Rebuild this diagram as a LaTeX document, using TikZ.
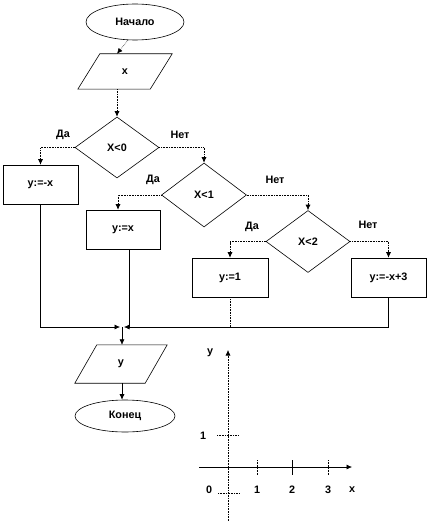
\documentclass[tikz,border=0pt]{standalone}
\usepackage{fontspec}
\setmainfont{Liberation Sans}
\usetikzlibrary{shapes.geometric,arrows.meta,calc}
\begin{document}
\begin{tikzpicture}[x=1pt,y=-1pt,
  every node/.style={font=\bfseries\fontsize{10.8}{12}\selectfont, inner sep=0pt},
  line/.style={line width=0.6pt, black},
  dotline/.style={line width=0.6pt, black, densely dotted},
  arr/.style={line, -{Latex[length=5.5pt,width=5pt]}},
  dotarr/.style={dotline, -{Latex[length=5.5pt,width=5pt]}},
  term/.style={draw, line width=0.6pt, ellipse},
  proc/.style={draw, line width=0.6pt, rectangle},
  cond/.style={draw, line width=0.6pt, diamond},
  io/.style={rectangle},
  lbl/.style={}]
\useasboundingbox (0,0) rectangle (427,521);

% nodes
\node[term, minimum width=98pt, minimum height=36pt] (start) at (135,22) {Начало};
\node[io, minimum width=72pt, minimum height=35pt] (in) at (125,71.5) {x};
\draw[line] ($(in.south west)+(-11pt,0pt)$) -- ($(in.south east)+(-11pt,0pt)$) -- ($(in.north east)+(11pt,0pt)$) -- ($(in.north west)+(11pt,0pt)$) -- cycle;

\node[cond, minimum width=84pt, minimum height=61pt] (d0) at (117,147.5) {X<0};
\node[cond, minimum width=85pt, minimum height=64pt] (d1) at (204,195) {X<1};
\node[cond, minimum width=84pt, minimum height=62pt] (d2) at (308,241.5) {X<2};

\node[proc, minimum width=75pt, minimum height=39pt] (b1) at (40.5,184.5) {y:=-x};
\node[proc, minimum width=74pt, minimum height=39pt] (b2) at (123,229.5) {y:=x};
\node[proc, minimum width=76pt, minimum height=39pt] (b3) at (230,277.5) {y:=1};
\node[proc, minimum width=75pt, minimum height=39pt] (b4) at (388.5,277.5) {y:=-x+3};

\node[io, minimum width=70pt, minimum height=38pt] (out) at (121,364) {y};
\draw[line] ($(out.south west)+(-11pt,0pt)$) -- ($(out.south east)+(-11pt,0pt)$) -- ($(out.north east)+(11pt,0pt)$) -- ($(out.north west)+(11pt,0pt)$) -- cycle;

\node[term, minimum width=100pt, minimum height=32pt] (end) at (125,416) {Конец};

% branch labels
\node[lbl] (da0) at (63,135) {Да};
\node[lbl] (net0) at (180,135) {Нет};
\node[lbl] (da1) at (153,180) {Да};
\node[lbl] (net1) at (275,180) {Нет};
\node[lbl] (da2) at (252,227) {Да};
\node[lbl] (net2) at (368,225) {Нет};

% connectors
\draw[dotarr] ([xshift=-7pt]start.south) -- ([xshift=-8pt]in.north);
\draw[dotarr] ([xshift=-8pt]in.south) -- (d0.north);
\draw[dotarr] (d0.west) -| (b1.north);
\draw[dotarr] (d0.east) -| (d1.north);
\draw[dotarr] (d1.west) -| ([xshift=-5pt]b2.north);
\draw[dotarr] (d1.east) -| (d2.north);
\draw[dotarr] (d2.west) -| (b3.north);
\draw[dotarr] (d2.east) -| (b4.north);

\coordinate (m) at (122,327);
\draw[arr] (b1.south) |- ([xshift=-2pt]m);
\draw[line] (b4.south) |- ([xshift=8pt]m);
\draw[arr] ([xshift=8pt]m) -- ([xshift=2pt]m);
\draw[dotline] (b3.south) -- (b3.south |- m);
\draw[line] ([xshift=6pt]b2.south) -- ([xshift=6pt]b2.south |- m);
\draw[arr] (m) -- (m |- out.north);
\draw[arr] (m |- out.south) -- (m |- end.north);

% axes
\coordinate (O) at (228,467);
\coordinate (ybot) at (228,521);
\coordinate (ytop) at (228,350);
\coordinate (xl) at (199,467);
\coordinate (xr) at (352,467);
\draw[dotline, -{Latex[length=5.5pt,width=5pt]}] (ybot) -- (ytop);
\draw[line, -{Latex[length=5.5pt,width=5pt]}] (xl) -- (xr);
\draw[dotline] (257,460) -- (257,475);
\draw[line] (292,460) -- (292,475);
\draw[dotline] (328,460) -- (328,475);
\draw[dotline] (217,435) -- (238,435);
\draw[dotline] (218,493) -- (239,493);

\node (ay) at (210,353) {y};
\node (ay1) at (203,436) {1};
\node (a0) at (209,490) {0};
\node (ax1) at (257,490) {1};
\node (ax2) at (292,490) {2};
\node (ax3) at (328,490) {3};
\node (ax) at (352,490) {x};
\end{tikzpicture}
\end{document}
